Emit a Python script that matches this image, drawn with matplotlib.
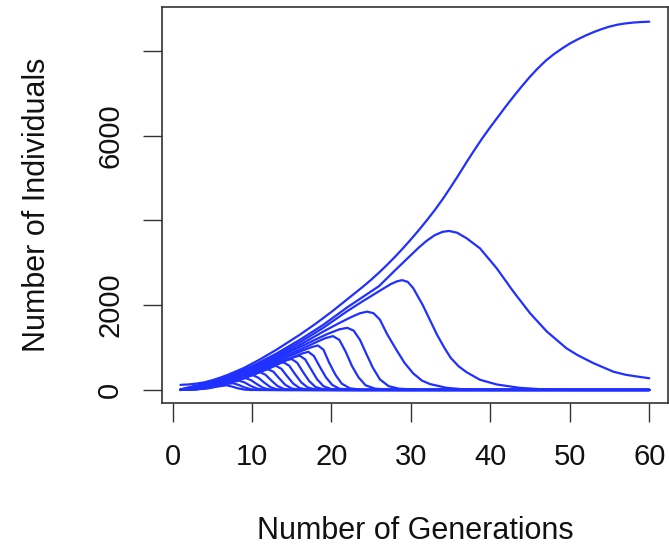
import matplotlib
matplotlib.use("Agg")
import matplotlib.pyplot as plt

# total population (never peaks)
top_gen = list(range(1, 61))
top_ind = [120, 130, 150, 180, 230, 290, 360, 440, 520, 620,
           720, 830, 940, 1060, 1180, 1300, 1430, 1560, 1700, 1840,
           1990, 2140, 2290, 2440, 2600, 2770, 2950, 3140, 3340, 3550,
           3770, 4000, 4240, 4500, 4780, 5070, 5370, 5660, 5940, 6200,
           6450, 6700, 6940, 7170, 7390, 7590, 7770, 7920, 8050, 8170,
           8270, 8360, 8440, 8510, 8570, 8615, 8645, 8665, 8678, 8686]

# curves that rise and fall, named by the generation of their peak
p34_gen = [1, 4, 7, 10, 13, 16, 19, 22, 24, 26, 28, 30, 31, 32, 33, 34, 34.8, 35.8, 37, 38.7, 40.8, 42.9, 45, 47.1, 49.6, 51, 53, 54, 55.5, 57, 58, 60]
p34_ind = [15, 150, 320, 560, 850, 1180, 1540, 1950, 2200, 2450, 2820, 3180, 3360, 3520, 3650, 3730, 3750, 3710, 3580, 3340, 2870, 2320, 1810, 1380, 980, 820, 630, 550, 430, 360, 330, 276]

p29_gen = [1, 4, 7, 10, 13, 16, 19, 22, 24, 26, 27.5, 28.3, 28.9, 29.6, 30.3, 31.5, 32.4, 33.3, 34.2, 35, 36, 37, 38.7, 40.8, 43.7, 47, 50, 60]
p29_ind = [10, 130, 300, 530, 810, 1120, 1470, 1860, 2100, 2330, 2500, 2565, 2590, 2550, 2400, 2000, 1650, 1300, 1000, 760, 560, 420, 240, 130, 50, 10, 0, 0]

p24_gen = [1, 4, 7, 10, 13, 16, 19, 21, 22.5, 23.6, 24.5, 25.3, 26.1, 27, 28.2, 29.2, 30.3, 31.4, 32.4, 34.5, 37, 40, 60]
p24_ind = [8, 120, 280, 500, 770, 1060, 1380, 1580, 1720, 1810, 1847, 1810, 1660, 1320, 940, 640, 390, 220, 140, 50, 10, 0, 0]

p22_gen = [1, 4, 7, 10, 13, 16, 18, 19.5, 21, 22, 22.8, 23.6, 24.4, 25.2, 26.1, 27.2, 28.5, 31, 60]
p22_ind = [6, 110, 260, 480, 740, 1010, 1190, 1320, 1430, 1465, 1400, 1180, 850, 530, 250, 90, 30, 5, 0]

p20_gen = [1, 4, 7, 10, 13, 16, 18, 19.2, 20.2, 21, 21.8, 22.6, 23.4, 24.3, 25.5, 28, 60]
p20_ind = [5, 100, 245, 450, 700, 950, 1120, 1220, 1270, 1180, 900, 560, 300, 110, 30, 0, 0]

p18_gen = [1, 4, 7, 10, 13, 15, 16.5, 17.5, 18.3, 19, 19.7, 20.5, 21.3, 22.3, 24, 60]
p18_ind = [4, 90, 230, 420, 660, 820, 940, 1010, 1050, 950, 650, 360, 150, 40, 0, 0]

p17_gen = [1, 4, 7, 10, 13, 15, 16.3, 17.1, 17.8, 18.5, 19.3, 20.1, 21, 23, 60]
p17_ind = [3, 85, 220, 400, 620, 760, 860, 900, 800, 560, 300, 120, 30, 0, 0]

p16_gen = [1, 4, 7, 10, 12, 14, 15.2, 16, 16.7, 17.4, 18.2, 19, 20, 22, 60]
p16_ind = [3, 80, 210, 380, 520, 680, 770, 810, 720, 500, 250, 90, 20, 0, 0]

p15_gen = [1, 4, 7, 10, 12, 13.5, 14.3, 15, 15.7, 16.4, 17.2, 18, 19, 21, 60]
p15_ind = [2, 75, 200, 360, 490, 630, 700, 730, 640, 430, 210, 70, 15, 0, 0]

p14_gen = [1, 4, 7, 9, 11, 12.5, 13.3, 14, 14.7, 15.4, 16.2, 17, 18, 20, 60]
p14_ind = [2, 70, 190, 290, 430, 560, 625, 650, 570, 380, 180, 60, 10, 0, 0]

p13_gen = [1, 4, 7, 9, 10.5, 11.8, 12.4, 13, 13.7, 14.4, 15.2, 16, 17, 19, 60]
p13_ind = [2, 65, 180, 275, 380, 500, 545, 570, 500, 330, 150, 45, 8, 0, 0]

p12_gen = [1, 4, 6, 8, 9.5, 10.8, 11.4, 12, 12.7, 13.4, 14.2, 15, 16, 18, 60]
p12_ind = [1, 60, 140, 230, 320, 420, 470, 490, 430, 280, 120, 35, 5, 0, 0]

p11_gen = [1, 4, 6, 7.5, 9, 10, 10.5, 11, 11.7, 12.4, 13.2, 14, 15, 17, 60]
p11_ind = [1, 55, 130, 200, 290, 370, 405, 420, 360, 230, 95, 25, 3, 0, 0]

p10_gen = [1, 3, 5, 6.5, 8, 9, 9.6, 10.1, 10.8, 11.5, 12.3, 13.1, 14, 60]
p10_ind = [1, 30, 90, 160, 240, 300, 335, 350, 290, 180, 70, 15, 0, 0]

p9_gen = [1, 3, 5, 6.5, 7.7, 8.6, 9.2, 9.9, 10.6, 11.4, 12.2, 13, 60]
p9_ind = [1, 25, 80, 145, 210, 260, 280, 230, 140, 50, 10, 0, 0]

p8_gen = [1, 3, 5, 6.5, 7.5, 8.4, 9.1, 9.8, 10.6, 11.4, 12, 60]
p8_ind = [0, 20, 70, 135, 185, 220, 175, 100, 35, 5, 0, 0]

p7_gen = [1, 3, 4.5, 5.8, 6.8, 7.6, 8.3, 9, 9.8, 10.6, 60]
p7_ind = [0, 15, 45, 95, 140, 160, 120, 65, 20, 0, 0]

p6_gen = [1, 3, 4.5, 5.6, 6.8, 7.5, 8.2, 9, 9.8, 60]
p6_ind = [0, 12, 40, 80, 110, 80, 40, 10, 0, 0]

curves = [(top_gen, top_ind), (p34_gen, p34_ind), (p29_gen, p29_ind), (p24_gen, p24_ind),
          (p22_gen, p22_ind), (p20_gen, p20_ind), (p18_gen, p18_ind), (p17_gen, p17_ind),
          (p16_gen, p16_ind), (p15_gen, p15_ind), (p14_gen, p14_ind), (p13_gen, p13_ind),
          (p12_gen, p12_ind), (p11_gen, p11_ind), (p10_gen, p10_ind), (p9_gen, p9_ind),
          (p8_gen, p8_ind), (p7_gen, p7_ind), (p6_gen, p6_ind)]

plt.rcParams['font.family'] = ['Liberation Sans', 'DejaVu Sans']

fig = plt.figure(figsize=(6.69, 5.5), dpi=100)
ax = fig.add_axes([0.2417, 0.2673, 0.7568, 0.7195])

for g, n in curves:
    ax.plot(g, n, color='#2030ff', lw=1.6, solid_joinstyle='round', solid_capstyle='round')

ax.set_xlim(-1.36, 62.36)
ax.set_ylim(-307, 9026)

ax.set_xticks([0, 10, 20, 30, 40, 50, 60])
ax.set_yticks([0, 2000, 4000, 6000, 8000])
ax.set_yticklabels(['0', '2000', '', '6000', ''], rotation=90, va='center')

ax.tick_params(axis='both', length=14, width=1.0, color='#333333', labelsize=21, pad=13,
               labelcolor='#111111')
ax.tick_params(axis='x', pad=15)

for s in ax.spines.values():
    s.set_color('#333333')
    s.set_linewidth(1.2)

ax.set_xlabel('Number of Generations', fontsize=22, color='#111111')
ax.set_ylabel('Number of Individuals', fontsize=22, color='#111111')
ax.xaxis.set_label_coords(0.5, -0.285)
ax.yaxis.set_label_coords(-0.217, 0.5)

fig.savefig('out.png', dpi=100)
